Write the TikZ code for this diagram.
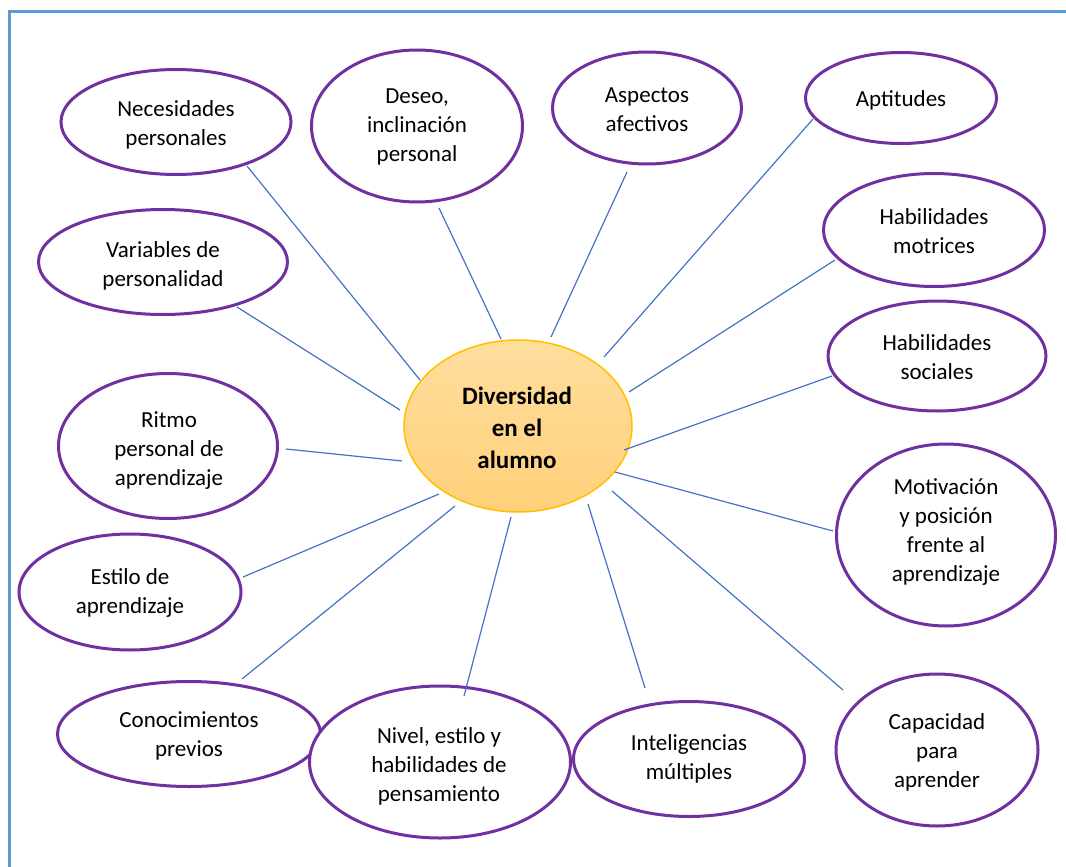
\documentclass[tikz,border=0pt]{standalone}
\usepackage{fontspec}
\setmainfont{Carlito}
\usetikzlibrary{shapes.geometric}
\definecolor{purp}{HTML}{7030A0}
\definecolor{lnk}{HTML}{4472C4}
\definecolor{frm}{HTML}{5B9BD5}
\definecolor{goldline}{HTML}{FFC000}
\definecolor{ctop}{RGB}{255,222,158}
\definecolor{cbot}{RGB}{255,208,122}
\begin{document}
\begin{tikzpicture}[x=1pt,y=-1pt,
  bub/.style={ellipse, draw=purp, line width=3pt, fill=white, inner sep=0pt},
  txt/.style={align=center, font=\fontsize{23}{29}\selectfont, inner sep=0pt},
  link/.style={draw=lnk, line width=1.2pt}]
\useasboundingbox (0,0) rectangle (1066,867);
% frame
\draw[frm, line width=3pt] (1070,12) -- (9.5,12) -- (9.5,870);

% ellipses
\node[bub, minimum width=230pt, minimum height=105pt] (nec) at (176,122) {};
\node[bub, minimum width=211pt, minimum height=152pt] (des) at (417,126) {};
\node[bub, minimum width=189pt, minimum height=112pt] (asp) at (647,108) {};
\node[bub, minimum width=191pt, minimum height=91pt]  (apt) at (901,98) {};
\node[bub, minimum width=221pt, minimum height=113pt] (mot) at (934,230) {};
\node[bub, minimum width=218pt, minimum height=110pt] (soc) at (937,356) {};
\node[bub, minimum width=219pt, minimum height=182pt] (mov) at (946,535) {};
\node[bub, minimum width=202pt, minimum height=152pt] (cap) at (937,750) {};
\node[bub, minimum width=231pt, minimum height=115pt] (int) at (689,759) {};
\node[bub, minimum width=263pt, minimum height=105pt] (con) at (189,734) {};
\node[bub, minimum width=261pt, minimum height=152pt] (niv) at (440,762) {};
\node[bub, minimum width=222pt, minimum height=116pt] (est) at (130,592) {};
\node[bub, minimum width=219pt, minimum height=145pt] (rit) at (168,446) {};
\node[bub, minimum width=249pt, minimum height=105pt] (var) at (163,262) {};
\node[ellipse, draw=goldline, line width=1.5pt, top color=ctop, bottom color=cbot,
      minimum width=228pt, minimum height=172pt, inner sep=0pt] (c) at (518,426) {};

% texts
\node[txt] (nec-t) at (176,125) {Necesidades\\personales};
\node[txt] (des-t) at (417,127) {Deseo,\\inclinación\\personal};
\node[txt] (asp-t) at (647,110) {Aspectos\\afectivos};
\node[txt] (apt-t) at (901,100) {Aptitudes};
\node[txt] (mot-t) at (934,231) {Habilidades\\motrices};
\node[txt] (soc-t) at (937,357) {Habilidades\\sociales};
\node[txt] (mov-t) at (946,532) {Motivación\\y posición\\frente al\\aprendizaje};
\node[txt] (cap-t) at (937,752) {Capacidad\\para\\aprender};
\node[txt] (int-t) at (689,759) {Inteligencias\\múltiples};
\node[txt] (niv-t) at (439,766) {Nivel, estilo y\\habilidades de\\pensamiento};
\node[txt] (con-t) at (189,736) {Conocimientos\\previos};
\node[txt] (est-t) at (130,593) {Estilo de\\aprendizaje};
\node[txt] (rit-t) at (169,451) {Ritmo\\personal de\\aprendizaje};
\node[txt] (var-t) at (163,266) {Variables de\\personalidad};
\node[align=center, inner sep=0pt, font=\fontsize{25}{32}\selectfont\bfseries] (c-t) at (517,428) {Diversidad\\en el\\alumno};

% connector end points
\coordinate (nec-e) at (247,166);  \coordinate (c-nec) at (420,380);
\coordinate (des-e) at (439,208);  \coordinate (c-des) at (501,339);
\coordinate (asp-e) at (627,172);  \coordinate (c-asp) at (551,337);
\coordinate (apt-e) at (813,119);  \coordinate (c-apt) at (604,357);
\coordinate (mot-e) at (835,260);  \coordinate (c-mot) at (629,392);
\coordinate (soc-e) at (832,376);  \coordinate (c-soc) at (624,450);
\coordinate (mov-e) at (833,531);  \coordinate (c-mov) at (615,472);
\coordinate (cap-e) at (843,690);  \coordinate (c-cap) at (612,491);
\coordinate (int-e) at (645,688);  \coordinate (c-int) at (588,504);
\coordinate (niv-e) at (464,696);  \coordinate (c-niv) at (511,517);
\coordinate (con-e) at (242,679);  \coordinate (c-con) at (455,506);
\coordinate (est-e) at (243,577);  \coordinate (c-est) at (439,494);
\coordinate (rit-e) at (286,449);  \coordinate (c-rit) at (402,461);
\coordinate (var-e) at (237,307);  \coordinate (c-var) at (400,410);

\foreach \n in {nec,des,asp,apt,mot,soc,mov,cap,int,niv,con,est,rit,var}
  \draw[link] (\n-e) -- (c-\n);
\end{tikzpicture}
\end{document}
